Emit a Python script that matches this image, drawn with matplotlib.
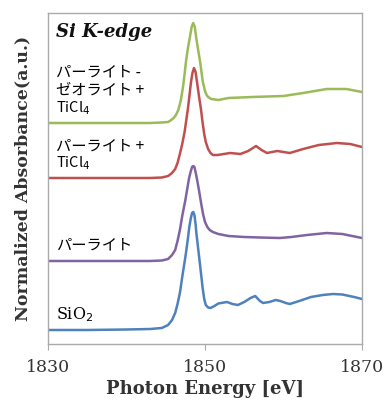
import matplotlib
matplotlib.use("Agg")
import matplotlib.pyplot as plt

# Photon energy [eV] and normalized absorbance (offset stacked)
sio2_x = [1830, 1835, 1840, 1843, 1844.5, 1845.3, 1845.8, 1846.2, 1846.5, 1846.8, 1847.1, 1847.5,
          1847.8, 1848.0, 1848.2, 1848.35, 1848.5, 1848.65, 1848.8, 1848.9, 1849.15, 1849.4,
          1849.7, 1849.9, 1850.1, 1850.4, 1850.7, 1851.2, 1851.7, 1852.8,
          1853.5, 1854.2, 1855.0, 1855.8, 1856.4, 1857.0, 1857.4, 1858.2, 1859.0, 1859.6, 1860.3,
          1860.8, 1862.0, 1863.5, 1865.0, 1866.3, 1867.5, 1869.0, 1870]
sio2_y = [0.14, 0.14, 0.145, 0.15, 0.16, 0.19, 0.24, 0.31, 0.40, 0.51, 0.67, 0.87,
          1.04, 1.17, 1.26, 1.31, 1.32, 1.29, 1.20, 1.11, 0.94, 0.77,
          0.56, 0.45, 0.39, 0.365, 0.36, 0.38, 0.405, 0.42,
          0.40, 0.39, 0.42, 0.46, 0.48, 0.43, 0.41, 0.42, 0.44, 0.43, 0.41,
          0.40, 0.43, 0.47, 0.49, 0.50, 0.495, 0.47, 0.45]

perlite_x = [1830, 1835, 1840, 1843, 1844.5, 1845.3, 1845.8, 1846.2, 1846.5, 1846.8, 1847.1,
             1847.5, 1847.8, 1848.0, 1848.2, 1848.35, 1848.5, 1848.65, 1848.8, 1849.0, 1849.25,
             1849.5, 1849.75, 1850.0, 1850.3, 1850.6, 1851.0, 1851.7, 1853, 1855, 1857,
             1859.5, 1861, 1863, 1865.5, 1867.5, 1870]
perlite_y = [0.83, 0.83, 0.83, 0.83, 0.835, 0.85, 0.89, 0.94, 1.03, 1.14, 1.28,
             1.44, 1.58, 1.67, 1.73, 1.77, 1.78, 1.77, 1.72, 1.64, 1.53,
             1.41, 1.30, 1.22, 1.17, 1.14, 1.12, 1.10, 1.08, 1.07, 1.065,
             1.06, 1.07, 1.09, 1.11, 1.10, 1.06]

ti_x = [1830, 1835, 1840, 1843, 1844.5, 1845.3, 1845.8, 1846.2, 1846.5, 1846.8, 1847.1, 1847.4,
        1847.8, 1848.0, 1848.2, 1848.4, 1848.6, 1848.8, 1849.0, 1849.25, 1849.5, 1849.7,
        1849.9, 1850.1, 1850.4, 1850.7, 1851.0, 1851.6, 1852.4, 1853.2,
        1854.5, 1855.5, 1856.5, 1857.2, 1857.9, 1859.2, 1860.8, 1862.5, 1864.5, 1866.8, 1868.5, 1870]
ti_y = [1.66, 1.66, 1.66, 1.66, 1.665, 1.68, 1.71, 1.75, 1.81, 1.90, 2.00, 2.12,
        2.34, 2.47, 2.61, 2.71, 2.76, 2.72, 2.61, 2.47, 2.34, 2.21,
        2.10, 2.02, 1.95, 1.91, 1.89, 1.89, 1.90, 1.91,
        1.90, 1.93, 1.98, 1.94, 1.91, 1.93, 1.91, 1.95, 1.99, 2.01, 2.00, 1.97]

zeo_x = [1830, 1835, 1840, 1843, 1844.5, 1845.3, 1845.7, 1846.0, 1846.3, 1846.6, 1846.9, 1847.2,
         1847.4, 1847.6, 1847.85, 1848.1, 1848.3, 1848.5, 1848.7, 1848.9, 1849.15, 1849.4,
         1849.7, 1850.0, 1850.2, 1850.4, 1850.8, 1851.7, 1853, 1856,
         1860, 1862.5, 1865.5, 1868, 1870]
zeo_y = [2.21, 2.21, 2.21, 2.21, 2.215, 2.22, 2.24, 2.26, 2.29, 2.34, 2.43, 2.57,
         2.70, 2.84, 2.97, 3.08, 3.17, 3.21, 3.17, 3.05, 2.93, 2.81,
         2.63, 2.53, 2.49, 2.47, 2.45, 2.44, 2.46, 2.47,
         2.48, 2.51, 2.55, 2.55, 2.52]

series = [
    (sio2_x, sio2_y, "#4f81bd"),
    (perlite_x, perlite_y, "#8064a2"),
    (ti_x, ti_y, "#c0504d"),
    (zeo_x, zeo_y, "#9bbb59"),
]

x_ticks = [1830, 1850, 1870]
x_label = "Photon Energy [eV]"
y_label = "Normalized Absorbance(a.u.)"
edge_label = "Si K-edge"

W, H = 388, 409
fig = plt.figure(figsize=(W / 100, H / 100), dpi=100)
ax = fig.add_axes([48 / W, 1 - 344 / H, (362 - 48) / W, (344 - 13) / H])

for xs, ys, c in series:
    ax.plot(xs, ys, color=c, lw=1.8, solid_joinstyle="round", solid_capstyle="round")

ax.set_xlim(1830, 1870)
ax.set_ylim(0, 3.31)
ax.set_xticks(x_ticks)
ax.set_xticklabels([str(t) for t in x_ticks], family="DejaVu Serif", fontsize=12.5, color="#333333")
ax.set_yticks([])
ax.tick_params(axis="x", direction="out", length=4, color="#aaaaaa", pad=7)
for s in ax.spines.values():
    s.set_color("#aaaaaa")
    s.set_linewidth(1.0)

ax.set_xlabel(x_label, family="DejaVu Serif", fontsize=13, fontweight="bold", color="#333333", labelpad=3)
ax.set_ylabel(y_label, family="DejaVu Serif", fontsize=12.5, fontweight="bold", color="#333333", labelpad=12)

jp = ["Noto Sans CJK JP", "DejaVu Sans"]
fs = 11
ax.text(1831.0, 3.12, edge_label, family="DejaVu Serif", style="italic", fontweight="bold",
        fontsize=13, color="#111111", va="center")
ax.text(1831.0, 2.715, "パーライト -", family=jp, fontsize=fs, va="center")
ax.text(1831.0, 2.54, "ゼオライト +", family=jp, fontsize=fs, va="center")
ax.text(1831.0, 2.36, "TiCl$_4$", family=jp, fontsize=fs - 0.5, va="center")
ax.text(1831.0, 1.98, "パーライト +", family=jp, fontsize=fs, va="center")
ax.text(1831.0, 1.81, "TiCl$_4$", family=jp, fontsize=fs - 0.5, va="center")
ax.text(1831.0, 0.99, "パーライト", family=jp, fontsize=fs, va="center")
ax.text(1831.0, 0.29, "SiO$_2$", family="DejaVu Serif", fontsize=11.5, va="center")

fig.savefig("out.png", dpi=100)
